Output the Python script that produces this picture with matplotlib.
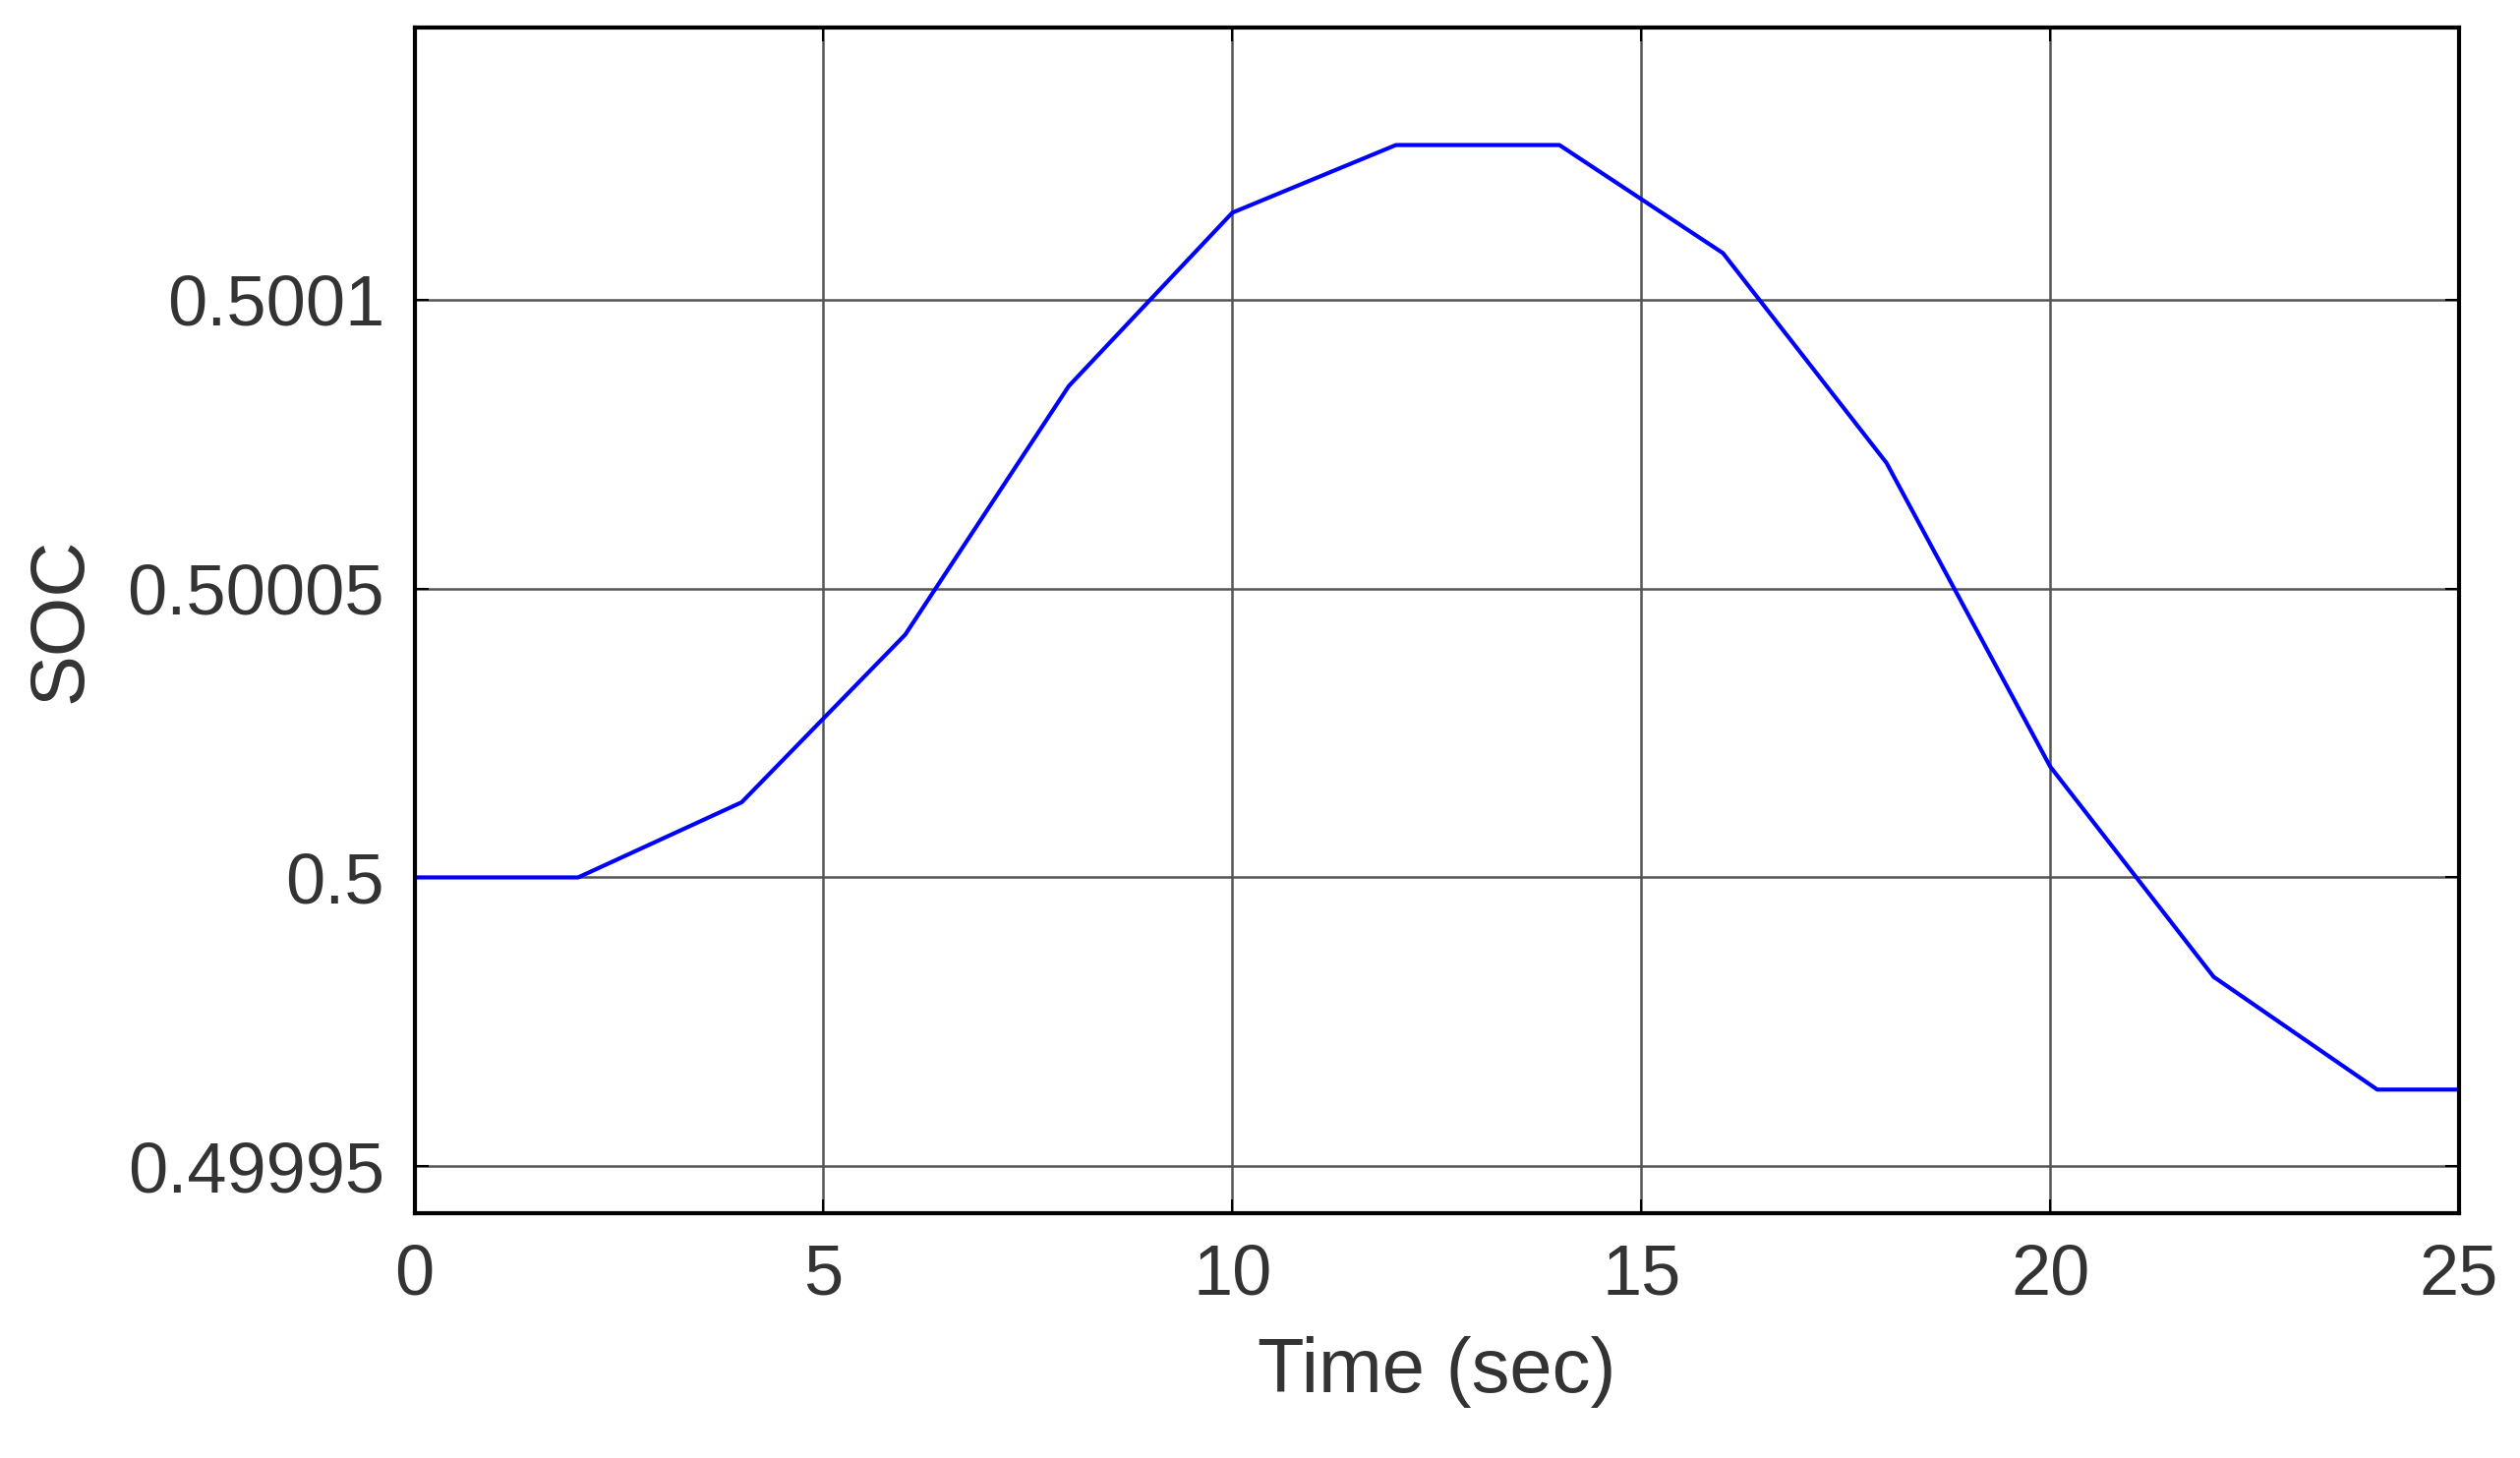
import matplotlib
matplotlib.use('Agg')
from matplotlib import pyplot as plt

plt.rcParams['font.family'] = ['Liberation Sans', 'DejaVu Sans']

time = [0, 2, 4, 6, 8, 10, 12, 14, 16, 18, 20, 22, 24, 25]
soc = [0.5, 0.5, 0.500013, 0.500042, 0.500085, 0.500115, 0.5001267,
       0.5001267, 0.500108, 0.5000717, 0.5000192, 0.4999828, 0.4999633, 0.4999633]
yticks = [0.49995, 0.5, 0.50005, 0.5001]
ylabels = ['0.49995', '0.5', '0.50005', '0.5001']

fig = plt.figure(figsize=(25.63, 14.83), dpi=100)
ax = fig.add_axes([0.1645, 0.168, 0.8113, 0.813])
ax.plot(time, soc, color='#0000ff', lw=3)
ax.set_xlim(0, 25)
ax.set_ylim(0.49994194, 0.500147)
ax.set_xticks([0, 5, 10, 15, 20, 25])
ax.set_yticks(yticks)
ax.set_yticklabels(ylabels)
ax.grid(True, color='#555555', lw=1.8)
ax.tick_params(direction='in', top=True, right=True, length=10, width=1.5,
               labelsize=52, labelcolor='#333333', pad=22)
for s in ax.spines.values():
    s.set_linewidth(3)
ax.set_xlabel('Time (sec)', fontsize=56, color='#333333', labelpad=20)
ax.set_ylabel('SOC', fontsize=56, color='#333333', labelpad=22)
fig.savefig('out.png')
